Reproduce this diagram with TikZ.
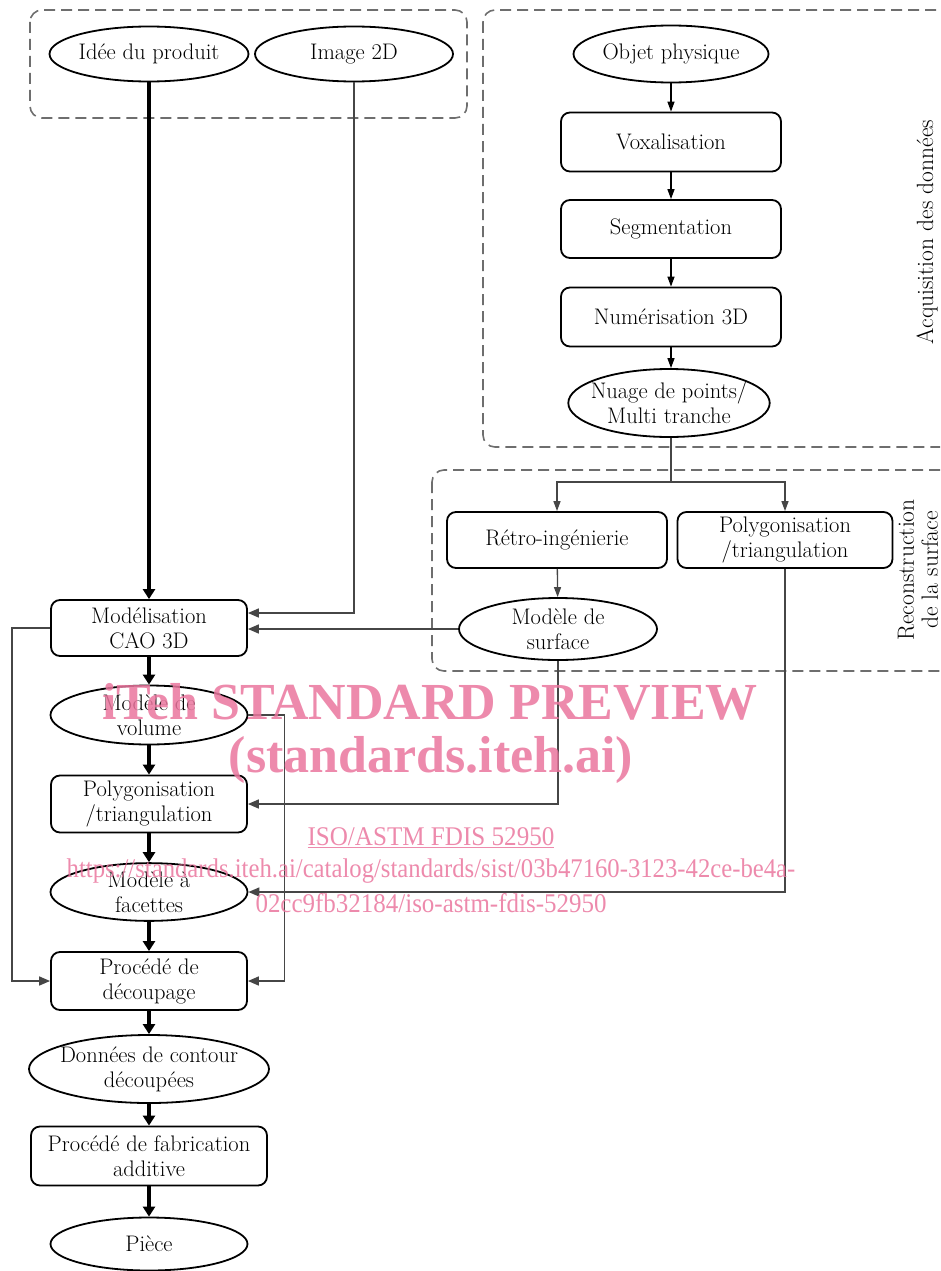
\documentclass[tikz,border=0pt]{standalone}
\usepackage{fontspec}
\usetikzlibrary{shapes.geometric,arrows.meta,calc}
\newfontfamily\wmfont{Liberation Serif}
\newcommand\nfont{\fontsize{22.5}{25}\selectfont}
\newcommand\lfont{\fontsize{23.5}{24}\selectfont}
\definecolor{wm}{RGB}{234,118,158}
\definecolor{ln}{RGB}{70,70,70}
\definecolor{grp}{RGB}{110,110,110}
\tikzset{
  box/.style={draw, line width=1.8pt, rounded corners=9pt, inner sep=0pt, align=center, font=\nfont},
  oval/.style={draw, ellipse, line width=1.8pt, inner sep=0pt, align=center, font=\nfont},
  thickarr/.style={line width=4.5pt, -{Triangle[length=10pt,width=12pt]}},
  blkarr/.style={line width=1.3pt, -{Triangle[length=10pt,width=7pt]}},
  thinarr/.style={line width=1.6pt, draw=ln, -{Triangle[length=11pt,width=9pt]}, color=ln},
  thinline/.style={line width=1.6pt, draw=ln},
  grpbox/.style={draw=grp, dash pattern=on 11pt off 6pt, line width=1.6pt, rounded corners=12pt},
  wmark/.style={text=wm, text opacity=0.85, inner sep=0pt}
}
\begin{document}
\begin{tikzpicture}[x=1pt,y=-1pt]
\useasboundingbox (0,0) rectangle (940,1271);
\clip (0,0) rectangle (940,1271);
% groups
\draw[grpbox] (30,10) rectangle (467,118);
\draw[grpbox] (483,10) rectangle (975,447);
\draw[grpbox] (432,470) rectangle (975,671);
% top left
\node[oval, minimum width=196pt, minimum height=55pt] (idee) at (149,54) {Idée du produit};
\node[oval, minimum width=198pt, minimum height=55pt] (img) at (354,54) {Image 2D};
% acquisition
\node[oval, minimum width=195pt, minimum height=57pt] (objet) at (671,54) {Objet physique};
\node[box, minimum width=220pt, minimum height=59pt] (voxal) at (671,142) {Voxalisation};
\node[box, minimum width=220pt, minimum height=58pt] (segm) at (671,229) {Segmentation};
\node[box, minimum width=220pt, minimum height=59pt] (numer) at (671,317) {Numérisation 3D};
\node[oval, inner xsep=-7pt, inner ysep=-4pt, minimum width=201pt, minimum height=68pt] (nuage) at (669,403) {Nuage de points/\\Multi tranche};
\node[rotate=90, font=\lfont] (lacq) at (927,232) {Acquisition des données};
% reconstruction
\node[box, minimum width=220pt, minimum height=56pt] (retro) at (557,540) {Rétro-ingénierie};
\node[box, minimum width=215pt, minimum height=56pt] (polyR) at (785,540) {Polygonisation\\/triangulation};
\node[oval, minimum width=198pt, minimum height=62pt] (msurf) at (558,629) {Modèle de\\surface};
\node[rotate=90, font=\lfont, align=center] (lrec) at (918,570) {Reconstruction\\de la surface};
% main column
\node[box, minimum width=196pt, minimum height=56pt] (cao) at (149,628) {Modélisation\\CAO 3D};
\node[oval, minimum width=197pt, minimum height=59pt] (vol) at (149,715) {Modèle de\\volume};
\node[box, minimum width=196pt, minimum height=57pt] (polyL) at (149,804) {Polygonisation\\/triangulation};
\node[oval, minimum width=197pt, minimum height=56pt] (facet) at (149,892) {Modèle à\\facettes};
\node[box, minimum width=196pt, minimum height=58pt] (decoup) at (149,981) {Procédé de\\découpage};
\node[oval, inner xsep=-5pt, inner ysep=-5pt, minimum width=240pt, minimum height=68pt] (contour) at (149,1069) {Données de contour\\découpées};
\node[box, minimum width=236pt, minimum height=59pt] (fab) at (149,1156) {Procédé de fabrication\\additive};
\node[oval, minimum width=197pt, minimum height=53pt] (piece) at (149,1244) {Pièce};
% thick flow
\draw[thickarr] (idee) -- (cao);
\draw[thickarr] (cao) -- (vol);
\draw[thickarr] (vol) -- (polyL);
\draw[thickarr] (polyL) -- (facet);
\draw[thickarr] (facet) -- (decoup);
\draw[thickarr] (decoup) -- (contour);
\draw[thickarr] (contour) -- (fab);
\draw[thickarr] (fab) -- (piece);
% acquisition flow
\draw[blkarr] (objet) -- (voxal);
\draw[blkarr] (voxal) -- (segm);
\draw[blkarr] (segm) -- (numer);
\draw[blkarr] (numer.south) -- (numer.south |- nuage.north);
\coordinate (split) at (671,482);
\draw[thinline] (nuage.south -| split) -- (split);
\draw[blkarr, draw=ln] (split) -| (retro.north);
\draw[blkarr, draw=ln] (split) -| (polyR.north);
\draw[blkarr, draw=ln] (retro) -- (msurf);
% feedback / cross links
\draw[thinarr] (img.south) |- ([yshift=15pt]cao.east);
\draw[thinarr] (msurf.west) -- (cao.east |- msurf.west);
\draw[thinarr] (msurf.south) |- (polyL.east);
\draw[thinarr] (polyR.south) |- (facet.east);
\draw[thinarr] (cao.west) -- ++(-38,0) |- (decoup.west);
\draw[thinarr] (vol.east) -- ++(36,0) |- (decoup.east);
% watermark
\node[wmark, font=\wmfont\bfseries\fontsize{52}{60}\selectfont] (wm1) at (430,702) {iTeh STANDARD PREVIEW};
\node[wmark, font=\wmfont\bfseries\fontsize{52}{60}\selectfont] (wm2) at (431,760) {(standards.iteh.ai)};
\node[wmark, font=\wmfont\fontsize{27}{30}\selectfont] (wm3) at (431,838) {\scalebox{0.93}[1]{\underline{ISO/ASTM FDIS 52950}}};
\node[wmark, font=\wmfont\fontsize{27}{30}\selectfont] (wm4) at (431,871) {\scalebox{0.915}[1]{https://standards.iteh.ai/catalog/standards/sist/03b47160-3123-42ce-be4a-}};
\node[wmark, font=\wmfont\fontsize{27}{30}\selectfont] (wm5) at (431,903) {\scalebox{0.925}[1]{02cc9fb32184/iso-astm-fdis-52950}};
\end{tikzpicture}
\end{document}
